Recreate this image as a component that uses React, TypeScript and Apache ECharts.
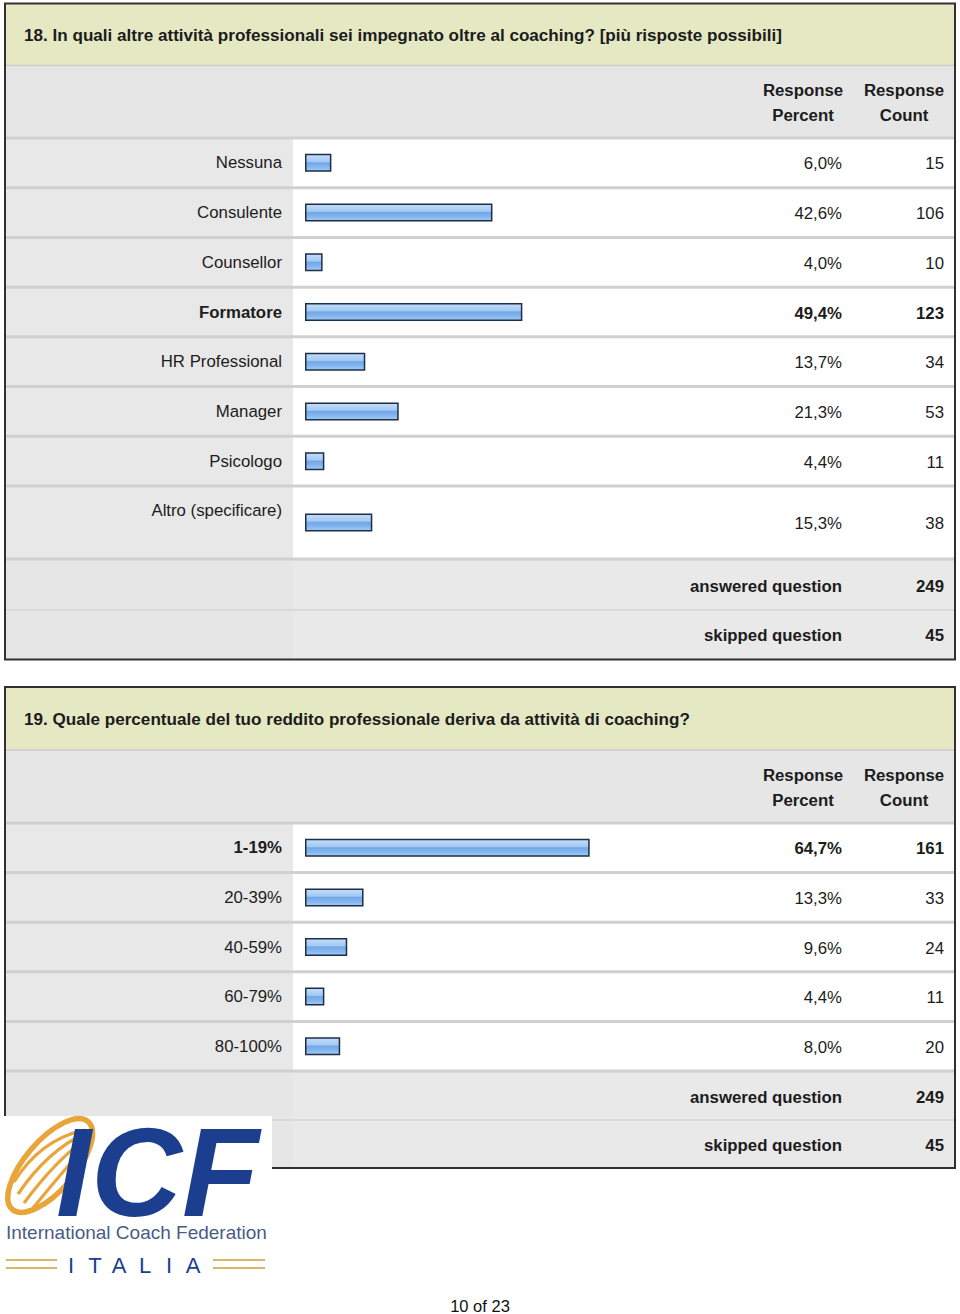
import React, { useEffect, useRef } from 'react';
import * as echarts from 'echarts';

// ---------- data ----------
const q18Title = '18. In quali altre attività professionali sei impegnato oltre al coaching? [più risposte possibili]';
const q18Categories = ['Nessuna', 'Consulente', 'Counsellor', 'Formatore', 'HR Professional', 'Manager', 'Psicologo', 'Altro (specificare)'];
const q18Percent = [6.0, 42.6, 4.0, 49.4, 13.7, 21.3, 4.4, 15.3];
const q18Count = [15, 106, 10, 123, 34, 53, 11, 38];
const q18Answered = 249;
const q18Skipped = 45;

const q19Title = '19. Quale percentuale del tuo reddito professionale deriva da attività di coaching?';
const q19Categories = ['1-19%', '20-39%', '40-59%', '60-79%', '80-100%'];
const q19Percent = [64.7, 13.3, 9.6, 4.4, 8.0];
const q19Count = [161, 33, 24, 11, 20];
const q19Answered = 249;
const q19Skipped = 45;

const headerPercent = ['Response', 'Percent'];
const headerCount = ['Response', 'Count'];
const answeredLabel = 'answered question';
const skippedLabel = 'skipped question';
const pageLabel = '10 of 23';

// ---------- styling / layout ----------
const FONT = '"Liberation Sans", Arial, Helvetica, sans-serif';
const TEXT = '#1c1c1c';
const FS = 16.8;
const BAR_LEFT = 305;
const BAR_WIDTH_PX = 440;
const PCT_RIGHT = 842;
const CNT_RIGHT = 944;
const PCT_CENTER = 803;
const CNT_CENTER = 904;
const LABEL_COL = 293;

const fmtPct = (v: number) => v.toFixed(1).replace('.', ',') + '%';

function txt(text: string, x: number, y: number, opts: any = {}) {
  const align = opts.align || 'left';
  const style: any = {
    text,
    fill: opts.fill || TEXT,
    fontSize: opts.fontSize || FS,
    fontFamily: opts.fontFamily || FONT,
    fontWeight: opts.weight || (opts.bold ? 'bold' : 'normal'),
    fontStyle: opts.italic ? 'italic' : 'normal',
    align,
    textAlign: align,
    verticalAlign: 'middle',
    textVerticalAlign: 'middle',
  };
  if (opts.lineHeight) style.lineHeight = opts.lineHeight;
  return { type: 'text', x, y, silent: true, z: opts.z || 10, style };
}

function rect(x: number, y: number, w: number, h: number, fill: string, z = 1) {
  return { type: 'rect', silent: true, z, shape: { x, y, width: w, height: h }, style: { fill } };
}

function line(x1: number, y1: number, x2: number, y2: number, stroke: string, lw: number, z = 3) {
  return { type: 'line', silent: true, z, shape: { x1, y1, x2, y2 }, style: { stroke, lineWidth: lw } };
}

interface TableCfg {
  top: number;
  bottom: number;
  titleBottom: number;
  headerBottom: number;
  rowBounds: number[];
  answeredBottom: number;
  title: string;
  percents: number[];
  counts: number[];
  valueYs: number[];
  answered: number;
  skipped: number;
  boldIdx: number;
}

function tableGraphics(c: TableCfg) {
  const L = 5;
  const R = 955;
  const els: any[] = [];
  els.push(rect(L, c.top, R - L, c.titleBottom - c.top, '#e5e9c3'));
  els.push(rect(L, c.titleBottom, R - L, c.headerBottom - c.titleBottom, '#e6e6e6'));
  const lastRow = c.rowBounds[c.rowBounds.length - 1];
  els.push(rect(L, c.headerBottom, LABEL_COL - L, lastRow - c.headerBottom, '#e8e8e8'));
  els.push(rect(LABEL_COL, c.headerBottom, R - LABEL_COL, lastRow - c.headerBottom, '#ffffff'));
  els.push(rect(L, lastRow, LABEL_COL - L, c.bottom - lastRow, '#e6e6e6'));
  els.push(rect(LABEL_COL, lastRow, R - LABEL_COL, c.bottom - lastRow, '#e9e9e9'));
  els.push(line(L, c.titleBottom, R, c.titleBottom, '#cdcdcd', 1.5));
  c.rowBounds.forEach((b) => els.push(line(L, b, R, b, '#d0d0d0', 3)));
  els.push(line(L, c.answeredBottom, R, c.answeredBottom, '#d4d4d4', 1.5));
  els.push({
    type: 'rect', silent: true, z: 5,
    shape: { x: L, y: c.top, width: R - L, height: c.bottom - c.top },
    style: { fill: 'none', stroke: '#303030', lineWidth: 2 },
  });
  els.push(txt(c.title, 24, (c.top + c.titleBottom) / 2 + 1, { bold: true, fontSize: 17.1 }));
  const hMid = (c.titleBottom + c.headerBottom) / 2;
  els.push(txt(headerPercent[0], PCT_CENTER, hMid - 11, { bold: true, align: 'center' }));
  els.push(txt(headerPercent[1], PCT_CENTER, hMid + 14, { bold: true, align: 'center' }));
  els.push(txt(headerCount[0], CNT_CENTER, hMid - 11, { bold: true, align: 'center' }));
  els.push(txt(headerCount[1], CNT_CENTER, hMid + 14, { bold: true, align: 'center' }));
  c.percents.forEach((p, i) => {
    const bold = i === c.boldIdx;
    els.push(txt(fmtPct(p), PCT_RIGHT, c.valueYs[i] + 1, { align: 'right', bold }));
    els.push(txt(String(c.counts[i]), CNT_RIGHT, c.valueYs[i] + 1, { align: 'right', bold }));
  });
  const aMid = (lastRow + c.answeredBottom) / 2 + 2;
  const sMid = (c.answeredBottom + c.bottom) / 2 + 1;
  els.push(txt(answeredLabel, PCT_RIGHT, aMid, { align: 'right', bold: true }));
  els.push(txt(String(c.answered), CNT_RIGHT, aMid, { align: 'right', bold: true }));
  els.push(txt(skippedLabel, PCT_RIGHT, sMid, { align: 'right', bold: true }));
  els.push(txt(String(c.skipped), CNT_RIGHT, sMid, { align: 'right', bold: true }));
  return els;
}

function logoGraphics() {
  const orange = '#e9a53a';
  const gold = '#dcb662';
  const blue = '#1b3e8e';
  const els: any[] = [];
  els.push(rect(0, 1116, 272, 178, '#ffffff', 20));
  els.push({
    type: 'ellipse', silent: true, z: 21,
    shape: { cx: 50, cy: 1166, rx: 58, ry: 25 },
    originX: 50, originY: 1166,
    rotation: 0.86,
    style: { fill: 'none', stroke: orange, lineWidth: 5.5 },
  });
  const stripes = [
    [84, 1130, 14, 1182, 40, 1140],
    [86, 1133, 18, 1194, 48, 1150],
    [88, 1137, 24, 1203, 56, 1160],
    [89, 1142, 33, 1208, 64, 1170],
  ];
  stripes.forEach((s) =>
    els.push({
      type: 'bezierCurve', silent: true, z: 21,
      shape: { x1: s[0], y1: s[1], x2: s[2], y2: s[3], cpx1: s[4], cpy1: s[5] },
      style: { fill: 'none', stroke: orange, lineWidth: 3.2 },
    })
  );
  els.push(txt('ICF', 56, 1172, { fill: blue, fontSize: 126, weight: 900, italic: true, z: 22, lineHeight: 92 }));
  els.push(txt('International Coach Federation', 6, 1232, { fill: '#4a5b86', fontSize: 19, z: 22, lineHeight: 18 }));
  const italia = 'ITALIA'.split('');
  const centers = [71, 95, 119, 145, 169, 193];
  italia.forEach((ch, i) => els.push(txt(ch, centers[i], 1265, { fill: blue, fontSize: 22, align: 'center', z: 22 })));
  [1260, 1268].forEach((y) => {
    els.push(line(6, y, 57, y, gold, 2, 21));
    els.push(line(213, y, 265, y, gold, 2, 21));
  });
  return els;
}

function buildOption() {
  const t1RowsTop = 138;
  const t1RowH = 348 / 7;
  const t1AltroTop = 486;
  const t1AltroBottom = 559;
  const t1Main = q18Categories.slice(0, 7);
  const t1Other = q18Categories.slice(7);
  const t1Bounds = [...t1Main.map((_, i) => t1RowsTop + i * t1RowH), t1AltroTop, t1AltroBottom];
  const t1ValueYs = [...t1Main.map((_, i) => t1RowsTop + (i + 0.5) * t1RowH), (t1AltroTop + t1AltroBottom) / 2];

  const t2RowsTop = 823;
  const t2RowH = 49.6;
  const t2Bounds = [...q19Categories.map((_, i) => t2RowsTop + i * t2RowH), t2RowsTop + q19Categories.length * t2RowH];
  const t2ValueYs = q19Categories.map((_, i) => t2RowsTop + (i + 0.5) * t2RowH);

  const q18Bold = q18Count.indexOf(Math.max(...q18Count));
  const q19Bold = q19Count.indexOf(Math.max(...q19Count));

  const barColor = new echarts.graphic.LinearGradient(0, 0, 0, 1, [
    { offset: 0, color: '#c4ddf8' },
    { offset: 0.42, color: '#a3c9f3' },
    { offset: 0.5, color: '#72a8e8' },
    { offset: 0.75, color: '#84b6ed' },
    { offset: 1, color: '#a2cbf4' },
  ]);

  const labelAxis = (gridIndex: number, data: string[], boldIdx: number, extra: any = {}) => ({
    type: 'category',
    gridIndex,
    data,
    inverse: true,
    z: 30,
    axisLine: { show: false },
    axisTick: { show: false },
    splitLine: { show: false },
    axisLabel: {
      interval: 0,
      margin: BAR_LEFT - 282,
      fontSize: FS,
      fontFamily: FONT,
      color: TEXT,
      formatter: (v: string, i: number) => (i === boldIdx ? `{b|${v}}` : `{n|${v}}`),
      rich: {
        b: { fontSize: FS, fontFamily: FONT, color: TEXT, fontWeight: 'bold' },
        n: { fontSize: FS, fontFamily: FONT, color: TEXT },
      },
      ...extra,
    },
  });

  const valueAxis = (gridIndex: number) => ({
    type: 'value', gridIndex, min: 0, max: 100, show: false,
  });

  const barSeries = (idx: number, data: number[]) => ({
    type: 'bar',
    xAxisIndex: idx,
    yAxisIndex: idx,
    data,
    barWidth: 18,
    silent: true,
    z: 20,
    itemStyle: { color: barColor, borderColor: '#1d2f48', borderWidth: 1.5 },
  });

  return {
    animation: false,
    backgroundColor: '#ffffff',
    grid: [
      { left: BAR_LEFT, top: t1RowsTop, width: BAR_WIDTH_PX, height: 7 * t1RowH },
      { left: BAR_LEFT, top: t1AltroTop, width: BAR_WIDTH_PX, height: t1AltroBottom - t1AltroTop },
      { left: BAR_LEFT, top: t2RowsTop, width: BAR_WIDTH_PX, height: q19Categories.length * t2RowH },
    ],
    xAxis: [valueAxis(0), valueAxis(1), valueAxis(2)],
    yAxis: [
      labelAxis(0, t1Main, q18Bold),
      labelAxis(1, t1Other, q18Bold - 7, { padding: [0, 0, 24, 0] }),
      labelAxis(2, q19Categories, q19Bold),
    ],
    series: [
      barSeries(0, q18Percent.slice(0, 7)),
      barSeries(1, q18Percent.slice(7)),
      barSeries(2, q19Percent),
    ],
    graphic: [
      ...tableGraphics({
        top: 3.5, bottom: 659.5, titleBottom: 65.5, headerBottom: 138,
        rowBounds: t1Bounds, answeredBottom: 610,
        title: q18Title, percents: q18Percent, counts: q18Count, valueYs: t1ValueYs,
        answered: q18Answered, skipped: q18Skipped, boldIdx: q18Bold,
      }),
      ...tableGraphics({
        top: 687, bottom: 1168, titleBottom: 750, headerBottom: 823,
        rowBounds: t2Bounds, answeredBottom: 1120,
        title: q19Title, percents: q19Percent, counts: q19Count, valueYs: t2ValueYs,
        answered: q19Answered, skipped: q19Skipped, boldIdx: q19Bold,
      }),
      ...logoGraphics(),
      txt(pageLabel, 480, 1306, { align: 'center', fill: '#111', fontSize: 16.5 }),
    ],
  };
}

export default function App() {
  const ref = useRef<HTMLDivElement>(null);
  useEffect(() => {
    if (!ref.current) return;
    const chart = echarts.init(ref.current, null, { renderer: 'svg' });
    chart.setOption(buildOption() as any);
    return () => chart.dispose();
  }, []);
  return (
    <div
      ref={ref}
      style={{ position: 'absolute', left: 0, top: 0, width: 960, height: 1314, background: '#fff' }}
    />
  );
}
